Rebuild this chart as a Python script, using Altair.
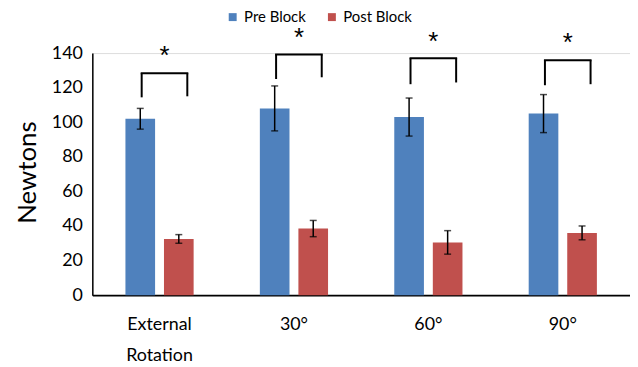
import altair as alt
import pandas as pd

categories = ["External Rotation", "30°", "60°", "90°"]
series = ["Pre Block", "Post Block"]
pre = [102, 108, 103, 105]
pre_err = [6, 13, 11, 11]
post = [32.5, 38.5, 30.5, 36]
post_err = [2.5, 4.7, 6.8, 4]

bracket_top = [128.3, 139.2, 137, 135.8]
bracket_left_bottom = [114.4, 125, 122, 121.4]
bracket_right_bottom = [115, 126, 123, 122]
star_y = [141.5, 152, 150, 149]
y_ticks = [0, 20, 40, 60, 80, 100, 120, 140]

colors = ["#4F81BD", "#C0504D"]
FONT = "Lato"

rows = []
for i, c in enumerate(categories):
    rows.append({"cat": c, "series": series[0], "value": pre[i],
                 "lo": pre[i] - pre_err[i], "hi": pre[i] + pre_err[i]})
    rows.append({"cat": c, "series": series[1], "value": post[i],
                 "lo": post[i] - post_err[i], "hi": post[i] + post_err[i]})
df = pd.DataFrame(rows)

bdf = pd.DataFrame({"cat": categories, "top": bracket_top,
                    "lb": bracket_left_bottom, "rb": bracket_right_bottom,
                    "star": star_y})

xaxis = alt.Axis(labelExpr="datum.label == 'External Rotation' ? ['External', 'Rotation'] : datum.label",
                 labelAngle=0, ticks=False, labelFontSize=18, labelFont=FONT,
                 labelColor="#000", labelPadding=21, labelBaseline="top",
                 labelLineHeight=31, domainColor="#000", domainWidth=2)
xscale = alt.Scale(paddingInner=0, paddingOuter=0)
yaxis = alt.Axis(values=y_ticks, ticks=False,
                 grid=False, labelFontSize=18, labelFont=FONT, labelColor="#000",
                 labelPadding=10, labelOverlap=False, domainColor="#000", domainWidth=1.5,
                 titleFontSize=26, titleFont=FONT, titleFontWeight="normal",
                 titleColor="#000", titleX=-65, titleY=120, titleAngle=-90,
                 titleAlign="center", titleBaseline="middle")
yscale = alt.Scale(domain=[0, 140], nice=False)


def xp(**kw):
    return alt.X("cat:N", sort=categories, title=None, scale=xscale, axis=xaxis, **kw)


def yp(f):
    return alt.Y(f, scale=yscale, title="Newtons", axis=yaxis)


xoff = alt.XOffset("series:N", sort=series,
                   scale=alt.Scale(paddingInner=0.2308, paddingOuter=0.859))

base = alt.Chart(df)
bars = base.mark_bar().encode(
    x=xp(), xOffset=xoff, y=yp("value:Q"),
    color=alt.Color("series:N", sort=series,
                    scale=alt.Scale(domain=series, range=colors),
                    legend=alt.Legend(title=None, orient="none", legendX=134, legendY=-44,
                                      direction="horizontal", symbolType="square",
                                      symbolSize=64, labelFontSize=15, labelFont=FONT,
                                      labelColor="#000", columnPadding=18, padding=0,
                                      symbolStrokeWidth=0)))
err = base.mark_rule(color="#000", strokeWidth=1.5).encode(
    x=xp(), xOffset=xoff, y=yp("lo:Q"), y2="hi:Q")
cap_lo = base.mark_tick(color="#000", thickness=1.5, size=7, orient="horizontal").encode(
    x=xp(), xOffset=xoff, y=yp("lo:Q"))
cap_hi = base.mark_tick(color="#000", thickness=1.5, size=7, orient="horizontal").encode(
    x=xp(), xOffset=xoff, y=yp("hi:Q"))

bb = alt.Chart(bdf)
left_v = bb.mark_rule(color="#000", strokeWidth=2, xOffset=-18).encode(
    x=xp(), y=yp("lb:Q"), y2="top:Q")
right_v = bb.mark_rule(color="#000", strokeWidth=2, xOffset=28).encode(
    x=xp(), y=yp("rb:Q"), y2="top:Q")
horiz = bb.mark_rule(color="#000", strokeWidth=2, xOffset=-19, x2Offset=29).encode(
    x=xp(bandPosition=0.5),
    x2=alt.X2("cat:N", bandPosition=0.5),
    y=yp("top:Q"))
stars = bb.mark_text(text="*", fontSize=26, font="Liberation Sans", color="#000", xOffset=5,
                     baseline="middle", dy=6).encode(
    x=xp(), y=yp("star:Q"))

chart = alt.layer(bars, err, cap_lo, cap_hi, left_v, right_v, horiz, stars).properties(
    width=542, height=244,
    autosize=alt.AutoSizeParams(type="none"),
    padding={"left": 85, "top": 44, "right": 0, "bottom": 70},
).configure_view(stroke=None).configure(background="white").configure_axisY(labelOverlap=False)

chart.save("out.html", embed_options={"renderer": "svg", "actions": False})
